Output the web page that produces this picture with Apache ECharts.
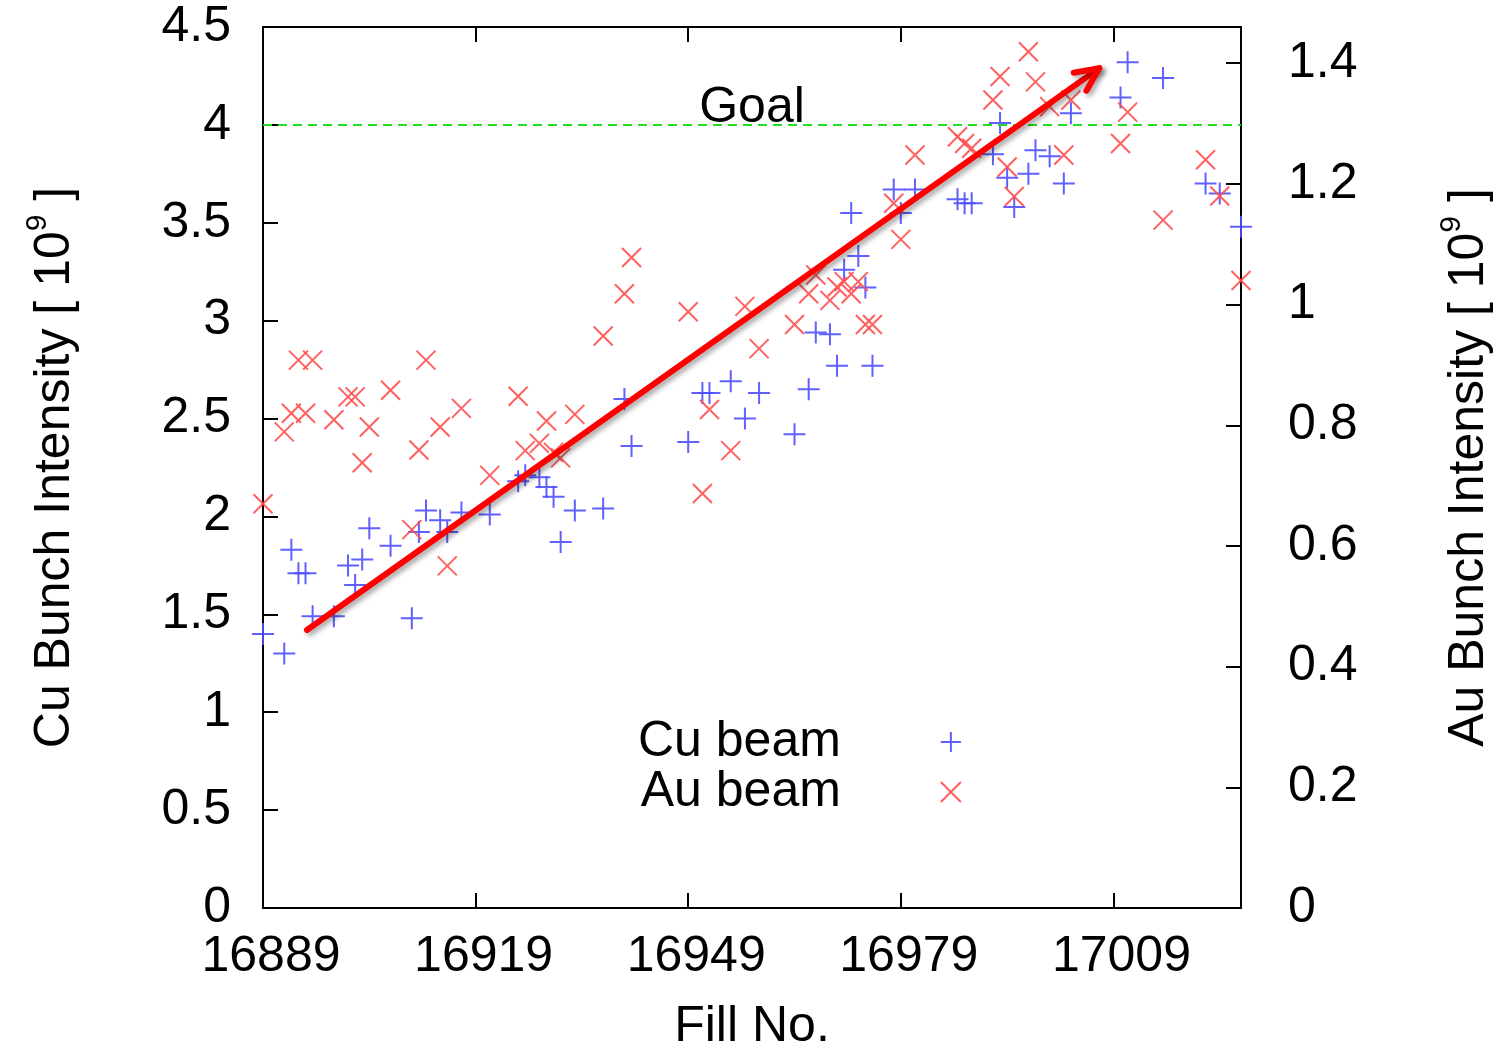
<!DOCTYPE html>
<html>
<head>
<meta charset="utf-8">
<script src="https://cdn.jsdelivr.net/npm/echarts@6/dist/echarts.min.js"></script>
<style>
html,body{margin:0;padding:0;background:#fff;overflow:hidden;}
#c{width:1499px;height:1046px;}
</style>
</head>
<body>
<div id="c"></div>
<script>
// ---- data ----
const cuFills = [16889,16892,16893,16894,16895,16896,16899,16901,16902,16903,16904,16907,16910,16911,16912,16914,16915,16917,16921,16925,16926,16928,16929,16930,16931,16933,16937,16940,16941,16949,16951,16952,16955,16957,16959,16964,16966,16967,16969,16970,16971,16972,16973,16974,16975,16978,16979,16981,16987,16988,16989,16992,16993,16994,16995,16997,16998,17000,17002,17003,17010,17011,17016,17022,17024,17027];
const cuIntensity = [1.40,1.30,1.83,1.71,1.71,1.49,1.49,1.75,1.65,1.78,1.94,1.85,1.48,1.92,2.03,1.98,1.92,2.02,2.01,2.18,2.21,2.20,2.15,2.10,1.87,2.03,2.04,2.60,2.36,2.38,2.63,2.63,2.69,2.50,2.63,2.42,2.65,2.94,2.93,2.77,3.26,3.55,3.33,3.17,2.77,3.67,3.55,3.67,3.62,3.60,3.60,3.85,4.01,3.73,3.58,3.75,3.87,3.84,3.70,4.06,4.14,4.32,4.24,3.70,3.65,3.48];
const auFills = [16889,16892,16893,16894,16895,16896,16899,16901,16902,16903,16904,16907,16910,16911,16912,16914,16915,16917,16921,16925,16926,16928,16929,16930,16931,16933,16937,16940,16941,16949,16951,16952,16955,16957,16959,16964,16966,16967,16969,16970,16971,16972,16973,16974,16975,16978,16979,16981,16987,16988,16989,16992,16993,16994,16995,16997,16998,17000,17002,17003,17010,17011,17016,17022,17024,17027];
const auIntensity = [0.670,0.789,0.820,0.908,0.820,0.908,0.809,0.847,0.847,0.738,0.797,0.858,0.627,0.759,0.908,0.797,0.567,0.828,0.717,0.848,0.758,0.770,0.807,0.755,0.746,0.818,0.948,1.018,1.078,0.988,0.687,0.826,0.758,0.997,0.927,0.967,1.018,1.049,1.007,1.029,1.038,1.018,1.038,0.967,0.967,1.168,1.108,1.248,1.278,1.267,1.259,1.339,1.378,1.228,1.179,1.419,1.369,1.328,1.248,1.339,1.267,1.319,1.140,1.240,1.180,1.040];
const goalValue = 4.0;
const arrowStart = [16895.2, 1.42];
const arrowEnd = [17007.0, 4.29];
const seriesNames = ['Cu beam', 'Au beam'];

const FONT = '"Liberation Sans", Arial, Helvetica, sans-serif';
const FS = 50;
const cuColor = '#4f4fff';
const auColor = '#ff4f4f';
const plusPath = 'path://M0,5L10,5M5,0L5,10';
const crossPath = 'path://M0,0L10,10M10,0L0,10';

const cuData = cuFills.map((f, i) => [f, cuIntensity[i]]);
const auData = auFills.map((f, i) => [f, auIntensity[i]]);

const chart = echarts.init(document.getElementById('c'), null, {renderer: 'canvas'});

const axisLineStyle = {color: '#000', width: 2};
const tickStyle = {show: true, inside: true, length: 15, lineStyle: {color: '#000', width: 2}};
const labelFont = {fontFamily: FONT, fontSize: FS, color: '#000'};

function titleRich() {
  return {
    m: {fontFamily: FONT, fontSize: FS, lineHeight: FS, color: '#000', padding: [14, 0, 0, 0]},
    s: {fontFamily: FONT, fontSize: 30, lineHeight: 30, color: '#000', verticalAlign: 'top'}
  };
}

const option = {
  animation: false,
  backgroundColor: '#fff',
  grid: {left: 263, right: 258, top: 27, bottom: 138, containLabel: false, outerBoundsMode: 'none'},
  legend: {
    data: [
      {name: seriesNames[0], icon: plusPath, itemStyle: {color: cuColor, borderColor: cuColor, borderWidth: 2}},
      {name: seriesNames[1], icon: crossPath, itemStyle: {color: auColor, borderColor: auColor, borderWidth: 2}}
    ],
    orient: 'vertical',
    align: 'right',
    left: 633,
    top: 712,
    itemWidth: 22,
    itemHeight: 20,
    itemGap: 0,
    selectedMode: false,
    textStyle: {fontFamily: FONT, fontSize: FS, lineHeight: 47, color: '#000', padding: [0, 94, 0, 0]}
  },
  xAxis: [
    {
      type: 'value', position: 'bottom', min: 16889, max: 17027, interval: 30,
      name: 'Fill No.', nameLocation: 'middle', nameGap: 94,
      nameTextStyle: {fontFamily: FONT, fontSize: FS, color: '#000'},
      axisLine: {show: true, onZero: false, lineStyle: axisLineStyle},
      axisTick: tickStyle,
      axisLabel: Object.assign({margin: 24, showMaxLabel: false, padding: [0, 0, 0, 16],
                                formatter: function (v) { return String(v); }}, labelFont),
      splitLine: {show: false}
    },
    {
      type: 'value', position: 'top', min: 16889, max: 17027, interval: 30,
      axisLine: {show: true, onZero: false, lineStyle: axisLineStyle},
      axisTick: tickStyle,
      axisLabel: {show: false},
      splitLine: {show: false}
    }
  ],
  yAxis: [
    {
      type: 'value', position: 'left', min: 0, max: 4.5, interval: 0.5,
      name: '{m|Cu Bunch Intensity [ 10}{s|9}{m| ]}', nameLocation: 'middle', nameGap: 190, nameRotate: 90,
      nameTextStyle: {rich: titleRich()},
      axisLine: {show: true, onZero: false, lineStyle: axisLineStyle},
      axisTick: tickStyle,
      axisLabel: Object.assign({margin: 32}, labelFont),
      splitLine: {show: false}
    },
    {
      type: 'value', position: 'right', min: 0, max: 1.46, interval: 0.2,
      name: '{m|Au Bunch Intensity [ 10}{s|9}{m| ]}', nameLocation: 'middle', nameGap: 196, nameRotate: 90,
      nameTextStyle: {rich: titleRich()},
      axisLine: {show: true, onZero: false, lineStyle: axisLineStyle},
      axisTick: tickStyle,
      axisLabel: Object.assign({margin: 47, showMaxLabel: false}, labelFont),
      splitLine: {show: false}
    }
  ],
  series: [
    {
      name: seriesNames[0], type: 'scatter', xAxisIndex: 0, yAxisIndex: 0,
      data: cuData, symbol: plusPath, symbolSize: 22, clip: false,
      itemStyle: {color: cuColor, borderColor: cuColor, borderWidth: 2, opacity: 0.9},
      z: 3,
      markLine: {
        silent: true, symbol: ['none', 'none'], animation: false,
        lineStyle: {color: '#22dd22', type: [9, 6], width: 2},
        label: {show: true, formatter: 'Goal', position: 'insideMiddleTop', distance: -8,
                fontFamily: FONT, fontSize: FS, color: '#000'},
        data: [{yAxis: goalValue}]
      }
    },
    {
      name: seriesNames[1], type: 'scatter', xAxisIndex: 0, yAxisIndex: 1,
      data: auData, symbol: crossPath, symbolSize: 19, clip: false,
      itemStyle: {color: auColor, borderColor: auColor, borderWidth: 2, opacity: 0.9},
      z: 3
    },
    {
      type: 'custom', xAxisIndex: 0, yAxisIndex: 0, z: 10, silent: true,
      data: [[arrowStart[0], arrowStart[1], arrowEnd[0], arrowEnd[1]]],
      renderItem: function (params, api) {
        const p0 = api.coord([api.value(0), api.value(1)]);
        const p1 = api.coord([api.value(2), api.value(3)]);
        const ang = Math.atan2(p0[1] - p1[1], p0[0] - p1[0]);
        const L = 26, da = 25 * Math.PI / 180;
        const a1 = [p1[0] + L * Math.cos(ang + da), p1[1] + L * Math.sin(ang + da)];
        const a2 = [p1[0] + L * Math.cos(ang - da), p1[1] + L * Math.sin(ang - da)];
        const st = {stroke: '#ff0000', lineWidth: 6, lineCap: 'round', lineJoin: 'round', fill: null,
                    shadowBlur: 5, shadowColor: 'rgba(0,0,0,0.35)', shadowOffsetX: 3, shadowOffsetY: 3};
        return {
          type: 'group',
          children: [
            {type: 'polyline', shape: {points: [p0, p1]}, style: st},
            {type: 'polyline', shape: {points: [a1, p1, a2]}, style: st}
          ]
        };
      }
    }
  ]
};
chart.setOption(option);
</script>
</body>
</html>
